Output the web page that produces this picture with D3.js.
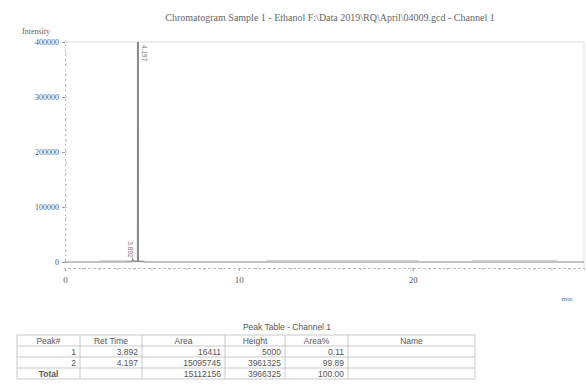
<!DOCTYPE html>
<html>
<head>
<meta charset="utf-8">
<script src="https://cdn.jsdelivr.net/npm/d3@7"></script>
<style>
  body { margin: 0; background: #fff; }
  svg { display: block; }
</style>
</head>
<body>
<svg id="chart" width="586" height="390"></svg>
<script>
// chromatogram trace (min, intensity)
const traceTime = [0, 3.5, 3.85, 3.892, 3.95, 4.17, 4.197, 4.22, 4.6, 29.9]
const traceIntensity = [0, 0, 800, 5000, 900, 1500, 3961325, 1200, 0, 0]
// faint drift segments seen on the baseline (start, end, intensity)
const driftStart = [2.0, 11.6, 23.4]
const driftEnd = [4.6, 20.3, 28.3]
const driftLevel = [2200, 2600, 2600]

const yTicks = [0, 100000, 200000, 300000, 400000]
const xTicks = [0, 10, 20]

// peak table
const peakNo = ['1', '2', 'Total']
const retTime = ['3.892', '4.197', '']
const areas = ['16411', '15095745', '15112156']
const heights = ['5000', '3961325', '3966325']
const areaPct = ['0.11', '99.89', '100.00']
const peakNames = ['', '', '']
const columns = ['Peak#', 'Ret Time', 'Area', 'Height', 'Area%', 'Name']

const svg = d3.select('#chart')
const textCol = '#555'

const x = d3.scaleLinear().domain([0, 29.85]).range([65, 584])
const y = d3.scaleLinear().domain([0, 400000]).range([262, 42])

// title
svg.append('text')
    .attr('x', 330).attr('y', 21)
    .attr('text-anchor', 'middle')
    .attr('font-family', 'Liberation Serif')
    .attr('font-size', 10)
    .attr('fill', '#666')
    .text('Chromatogram Sample 1 - Ethanol F:\\Data 2019\\RQ\\April\\04009.gcd - Channel 1')

svg.append('text')
    .attr('x', 36).attr('y', 34)
    .attr('text-anchor', 'middle')
    .attr('font-family', 'Liberation Serif')
    .attr('font-size', 8)
    .attr('fill', '#666')
    .text('Intensity')

// plot frame (top and right)
svg.append('path')
    .attr('d', `M${x(0)},${y(400000)}H${x.range()[1]}V268`)
    .attr('fill', 'none')
    .attr('stroke', '#ddd')

// y axis
const yAxis = svg.append('g')
    .attr('transform', `translate(${x(0)},0)`)
    .style('color', '#666')
    .call(d3.axisLeft(y).tickValues(yTicks).tickSize(3).tickPadding(3).tickFormat(d3.format('d')))
yAxis.select('.domain').attr('stroke', '#bbb').attr('stroke-dasharray', '2,3')
yAxis.selectAll('.tick line').attr('stroke', '#999')
yAxis.selectAll('.tick text')
    .attr('font-family', 'Liberation Serif')
    .attr('font-size', 8)
    .attr('fill', '#555')
// minor y ticks
svg.append('g').selectAll('line')
    .data(d3.range(0, 400001, 20000))
    .join('line')
    .attr('x1', x(0)).attr('x2', x(0) + 2)
    .attr('y1', d => y(d)).attr('y2', d => y(d))
    .attr('stroke', '#bbb')

// x axis (offset below the zero line)
const xAxis = svg.append('g')
    .attr('transform', 'translate(0,268)')
    .style('color', '#666')
    .call(d3.axisBottom(x).tickValues(xTicks).tickSize(3).tickPadding(6).tickFormat(d3.format('d')))
xAxis.select('.domain').attr('stroke', '#bbb').attr('stroke-dasharray', '3,2')
xAxis.selectAll('.tick line').attr('stroke', '#999')
xAxis.selectAll('.tick text')
    .attr('font-family', 'Liberation Serif')
    .attr('font-size', 9)
    .attr('fill', '#555')
svg.append('g').selectAll('line')
    .data(d3.range(0, 30, 1))
    .join('line')
    .attr('x1', d => x(d)).attr('x2', d => x(d))
    .attr('y1', 268).attr('y2', 270)
    .attr('stroke', '#bbb')

svg.append('text')
    .attr('x', 567).attr('y', 301)
    .attr('text-anchor', 'middle')
    .attr('font-family', 'Liberation Serif')
    .attr('font-size', 7)
    .attr('fill', '#777')
    .text('min')

// drift segments
svg.append('g').selectAll('line')
    .data(driftStart.map((s, i) => [s, driftEnd[i], driftLevel[i]]))
    .join('line')
    .attr('x1', d => x(d[0])).attr('x2', d => x(d[1]))
    .attr('y1', d => y(d[2])).attr('y2', d => y(d[2]))
    .attr('stroke', '#ccc')

// trace, clipped to plot area
svg.append('clipPath').attr('id', 'plotclip')
    .append('rect')
    .attr('x', x(0)).attr('y', y(400000))
    .attr('width', x.range()[1] - x(0)).attr('height', 268 - y(400000))

const line = d3.line()
    .x((d, i) => x(traceTime[i]))
    .y(d => y(d))
svg.append('path')
    .datum(traceIntensity)
    .attr('clip-path', 'url(#plotclip)')
    .attr('d', line)
    .attr('fill', 'none')
    .attr('stroke', '#888')
    .attr('stroke-width', 1.2)

// peak labels
svg.append('text')
    .attr('transform', `translate(${x(4.197) + 4},${y(400000) + 3}) rotate(90)`)
    .attr('font-family', 'Liberation Sans')
    .attr('font-size', 6.5)
    .attr('fill', '#777')
    .text('4.197')
svg.append('text')
    .attr('transform', `translate(${x(3.892) - 5},${y(5000) - 18}) rotate(90)`)
    .attr('font-family', 'Liberation Sans')
    .attr('font-size', 6.5)
    .attr('fill', '#777')
    .text('3.892')

// peak table
const colEdges = [17, 80, 142, 225, 285, 348, 475]
const rowTop = 335, rowH = 11
svg.append('text')
    .attr('x', 287).attr('y', 330)
    .attr('text-anchor', 'middle')
    .attr('font-family', 'Liberation Sans')
    .attr('font-size', 8.5)
    .attr('fill', textCol)
    .text('Peak Table - Channel 1')

const rows = peakNo.map((p, i) => [p, retTime[i], areas[i], heights[i], areaPct[i], peakNames[i]])
const tbl = svg.append('g').attr('font-family', 'Liberation Sans').attr('font-size', 8.5).attr('fill', textCol)

// header
tbl.selectAll('text.h')
    .data(columns)
    .join('text')
    .attr('class', 'h')
    .attr('x', (d, i) => (colEdges[i] + colEdges[i + 1]) / 2)
    .attr('y', rowTop + 8.5)
    .attr('text-anchor', 'middle')
    .text(d => d)

rows.forEach((r, ri) => {
    const yy = rowTop + rowH * (ri + 1) + 8.5
    tbl.append('g').selectAll('text')
        .data(r)
        .join('text')
        .attr('x', (d, i) => (ri === 2 && i === 0) ? (colEdges[0] + colEdges[1]) / 2 : colEdges[i + 1] - 4)
        .attr('y', yy)
        .attr('text-anchor', (d, i) => (ri === 2 && i === 0) ? 'middle' : 'end')
        .attr('font-weight', (d, i) => (ri === 2 && i === 0) ? 'bold' : null)
        .text(d => d)
})

// grid
const nRows = rows.length + 1
tbl.selectAll('line.hl')
    .data(d3.range(nRows + 1))
    .join('line')
    .attr('x1', colEdges[0]).attr('x2', colEdges[colEdges.length - 1])
    .attr('y1', d => rowTop + d * rowH).attr('y2', d => rowTop + d * rowH)
    .attr('stroke', '#bbb').attr('stroke-width', 0.8)
tbl.selectAll('line.vl')
    .data(colEdges)
    .join('line')
    .attr('x1', d => d).attr('x2', d => d)
    .attr('y1', rowTop).attr('y2', rowTop + nRows * rowH)
    .attr('stroke', '#bbb').attr('stroke-width', 0.8)
</script>
</body>
</html>
